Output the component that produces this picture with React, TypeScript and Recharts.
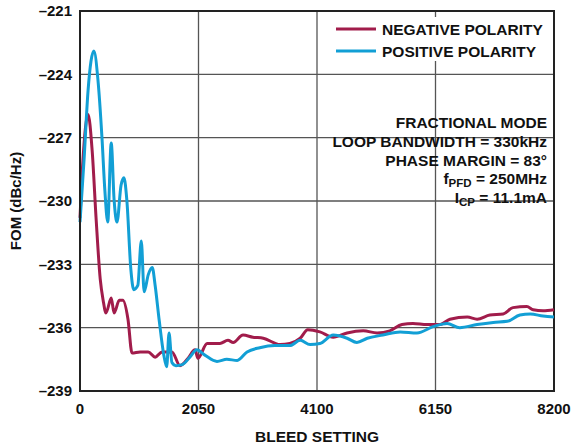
import React from 'react';
import { LineChart, Line, XAxis, YAxis, CartesianGrid, ReferenceArea, Customized, Label } from 'recharts';

// bleed setting vs FOM, negative polarity
const negX = [0, 50, 140, 210, 280, 350, 400, 450, 540, 590, 680, 740, 830, 900, 1040, 1180, 1300, 1420, 1590, 1730, 1870, 1990, 2040, 2200, 2420, 2560, 2650, 2820, 2990, 3170, 3460, 3630, 3810, 3940, 4150, 4380, 4620, 4900, 5140, 5360, 5570, 5760, 6000, 6230, 6400, 6700, 6870, 7090, 7320, 7490, 7730, 7840, 8010, 8200];
const negY = [-230.8, -228.1, -225.9, -227.6, -230.9, -233.7, -234.7, -235.3, -234.6, -235.3, -234.7, -234.7, -235.6, -237.2, -237.15, -237.15, -237.4, -237.15, -237.15, -237.8, -237.45, -237.05, -237.45, -236.75, -236.75, -236.6, -236.7, -236.35, -236.45, -236.5, -236.8, -236.75, -236.5, -236.1, -236.2, -236.45, -236.25, -236.15, -236.25, -236.15, -235.85, -235.8, -235.85, -235.85, -235.6, -235.5, -235.6, -235.4, -235.35, -235.05, -235.0, -235.15, -235.2, -235.15];

// bleed setting vs FOM, positive polarity
const posX = [0, 70, 140, 240, 310, 380, 430, 480, 540, 590, 640, 710, 760, 810, 880, 930, 1000, 1060, 1110, 1180, 1250, 1300, 1370, 1450, 1500, 1540, 1590, 1660, 1770, 1900, 2020, 2160, 2370, 2540, 2720, 2890, 3110, 3370, 3630, 3810, 3980, 4150, 4380, 4620, 4790, 4970, 5240, 5540, 5830, 6110, 6350, 6570, 6870, 7150, 7390, 7610, 7790, 8010, 8200];
const posY = [-231.0, -228.05, -224.75, -222.9, -224.25, -227.0, -229.5, -231.0, -227.25, -229.95, -231.0, -229.25, -228.9, -229.95, -233.25, -234.2, -234.0, -231.9, -234.3, -233.5, -233.15, -234.0, -235.65, -237.3, -237.85, -236.25, -237.65, -237.8, -237.75, -237.4, -237.05, -237.3, -237.6, -237.5, -237.55, -237.15, -236.95, -236.85, -236.85, -236.6, -236.8, -236.75, -236.35, -236.5, -236.7, -236.5, -236.35, -236.2, -236.25, -235.95, -235.8, -236.0, -235.85, -235.75, -235.7, -235.4, -235.35, -235.45, -235.5];

const xTicks = [0, 2050, 4100, 6150, 8200];
const yTicks = [-239, -236, -233, -230, -227, -224, -221];

const seriesNames = ['NEGATIVE POLARITY', 'POSITIVE POLARITY'];
const COLORS = ['#a11c4b', '#129fd5'];

const negData = negX.map((x, i) => ({ x, y: negY[i] }));
const posData = posX.map((x, i) => ({ x, y: posY[i] }));

const FONT = '"Liberation Sans", Arial, Helvetica, sans-serif';
const textStyle = { fontFamily: FONT, fontWeight: 'bold' as const, fontSize: 15.5, fill: '#111' };

// legend box, white background hides the grid behind it
function LegendBox() {
  return (
    <g>
      <rect x={330} y={17} width={220} height={44} fill="#fff" />
      {seriesNames.map((name, i) => (
        <g key={name}>
          <line x1={336} x2={376} y1={29 + i * 22} y2={29 + i * 22} stroke={COLORS[i]} strokeWidth={3} />
          <text x={382} y={34.5 + i * 22} {...textStyle}>{name}</text>
        </g>
      ))}
    </g>
  );
}

// conditions block in the upper right of the plot
function Conditions() {
  const x = 547;
  return (
    <g>
      <text x={x} y={128} textAnchor="end" {...textStyle}>FRACTIONAL MODE</text>
      <text x={x} y={147} textAnchor="end" {...textStyle}>LOOP BANDWIDTH = 330kHz</text>
      <text x={x} y={166} textAnchor="end" {...textStyle}>PHASE MARGIN = 83°</text>
      <text x={x} y={184} textAnchor="end" {...textStyle}>
        f<tspan dy={3} fontSize={11.5}>PFD</tspan><tspan dy={-3}> = 250MHz</tspan>
      </text>
      <text x={x} y={203} textAnchor="end" {...textStyle}>
        I<tspan dy={3} fontSize={11.5}>CP</tspan><tspan dy={-3}> = 11.1mA</tspan>
      </text>
    </g>
  );
}

const tickStyle = { fontFamily: FONT, fontWeight: 'bold', fontSize: 15, fill: '#111' };

export default function App() {
  return (
    <div style={{ position: 'absolute', left: 0, top: 0, background: '#fff' }}>
      <LineChart width={585} height={446} margin={{ top: 11, right: 31, left: 0, bottom: 0 }}>
        <CartesianGrid stroke="#555" strokeWidth={1.3} />
        <XAxis
          type="number"
          dataKey="x"
          domain={[0, 8200]}
          ticks={xTicks}
          height={55}
          tickSize={0}
          tickMargin={12}
          tick={tickStyle}
          axisLine={{ stroke: '#222', strokeWidth: 2 }}
          allowDuplicatedCategory={false}
        >
          <Label value="BLEED SETTING" position="insideBottom" offset={4} style={{ fontFamily: FONT, fontWeight: 'bold', fontSize: 15.5, fill: '#111' }} />
        </XAxis>
        <YAxis
          type="number"
          domain={[-239, -221]}
          ticks={yTicks}
          width={80}
          tickSize={0}
          tickMargin={8}
          tick={tickStyle}
          tickFormatter={(v: number) => String(v).replace('-', '–')}
          axisLine={{ stroke: '#222', strokeWidth: 2 }}
        >
          <Label value="FOM (dBc/Hz)" angle={-90} position="insideLeft" offset={16} style={{ fontFamily: FONT, fontWeight: 'bold', fontSize: 15, fill: '#111', textAnchor: 'middle' }} />
        </YAxis>
        <ReferenceArea x1={0} x2={8200} y1={-239} y2={-221} fill="none" stroke="#222" strokeWidth={2} />
        <Customized component={<LegendBox />} />
        <Line data={negData} dataKey="y" type="monotone" name={seriesNames[0]} stroke={COLORS[0]} strokeWidth={3} dot={false} isAnimationActive={false} />
        <Line data={posData} dataKey="y" type="monotone" name={seriesNames[1]} stroke={COLORS[1]} strokeWidth={3} dot={false} isAnimationActive={false} />
        <Customized component={<Conditions />} />
      </LineChart>
    </div>
  );
}
